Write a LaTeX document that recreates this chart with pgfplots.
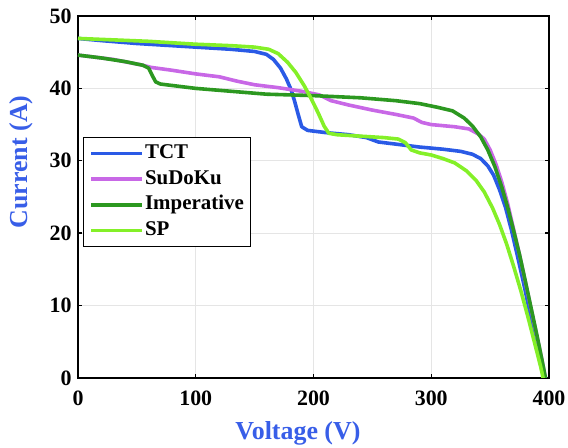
\documentclass[border=0pt]{standalone}
\usepackage{pgfplots}
\pgfplotsset{compat=1.18}
\usepackage{fontspec}
\setmainfont{Liberation Serif}
\definecolor{tct}{RGB}{42,90,230}
\definecolor{sudoku}{RGB}{200,104,230}
\definecolor{imper}{RGB}{44,152,32}
\definecolor{spc}{RGB}{132,240,40}
\definecolor{lab}{RGB}{56,94,232}
\begin{document}
\begin{tikzpicture}[x=1bp,y=1bp]
\path[use as bounding box] (-78,-70) rectangle (490,378);
\begin{axis}[
  at={(0,0)}, anchor=south west,
  scale only axis,
  width=471bp, height=362bp,
  xmin=0, xmax=400, ymin=0, ymax=50,
  xtick={0,100,200,300,400}, ytick={0,10,20,30,40,50},
  grid=major,
  grid style={draw=gray!20, line width=0.8bp},
  axis line style={line width=1.4bp},
  tick style={line width=1.4bp, black},
  major tick length=4bp,
  tick align=inside,
  /pgf/number format/assume math mode=true,
  ticklabel style={font=\fontsize{22}{24}\selectfont\bfseries},
  xticklabel style={yshift=-9bp},
  yticklabel style={xshift=-3bp},
  xlabel={Voltage (V)}, ylabel={Current (A)},
  label style={font=\fontsize{26}{28}\selectfont\bfseries, text=lab},
  xlabel style={at={(axis description cs:0.467,0)}, anchor=center, yshift=-55bp},
  ylabel style={at={(axis description cs:-0.121,0.597)}, anchor=center},
  legend style={at={(axis description cs:0.0106,0.666)}, anchor=north west, draw=black, line width=1.2bp,
    font=\fontsize{21}{23}\selectfont\bfseries, row sep=3.7bp, inner xsep=6bp, inner ysep=5bp,
    nodes={inner sep=1bp, text height=15bp, text depth=5bp}},
  legend cell align=left,
  legend image code/.code={\draw[#1, line width=3.5bp] (0bp,0bp) -- (51bp,0bp);},
  every axis plot/.append style={line width=3.6bp, line join=round},
]
\addplot[tct] coordinates {
(0,46.9)(20,46.6)(50,46.2)(80,45.9)(100,45.7)(130,45.4)(150,45.1)(160,44.7)(166,44.0)(172,42.8)(177,41.3)(181,39.8)(184,38.2)(187,36.4)(190,34.7)(195,34.2)(210,33.9)(230,33.6)(245,33.2)(255,32.6)(270,32.3)(290,31.9)(310,31.6)(325,31.3)(335,30.9)(342,30.3)(348,29.3)(353,28)(358,26)(363,23.6)(368,20.5)(373,17)(378,13.4)(383,9.6)(388,5.8)(393,2.2)(397,0)
};
\addlegendentry{TCT}
\addplot[sudoku] coordinates {
(0,44.6)(30,44)(55,43.2)(62,42.9)(80,42.5)(100,42.0)(120,41.6)(135,41.0)(150,40.5)(170,40.1)(190,39.6)(205,39.1)(215,38.3)(230,37.7)(250,37.0)(270,36.4)(285,35.9)(292,35.3)(300,35.0)(320,34.7)(332,34.4)(340,33.7)(345,33)(350,31.5)(355,29.5)(360,27)(365,24)(370,20.5)(375,17)(380,13.2)(385,9.4)(390,5.6)(394,2.5)(397,0)
};
\addlegendentry{SuDoKu}
\addplot[imper] coordinates {
(0,44.6)(20,44.2)(40,43.7)(55,43.2)(60,42.8)(63,41.8)(66,40.9)(70,40.6)(100,40.0)(130,39.6)(160,39.2)(200,39.0)(240,38.7)(270,38.3)(290,37.9)(305,37.4)(318,36.9)(328,35.9)(335,34.8)(342,33.3)(348,31.5)(354,29.2)(360,26.3)(365,23.5)(370,20.3)(375,17)(380,13.3)(385,9.5)(390,5.7)(394,2.5)(397,0)
};
\addlegendentry{Imperative}
\addplot[spc] coordinates {
(0,46.9)(30,46.7)(60,46.5)(100,46.1)(130,45.9)(150,45.7)(162,45.4)(170,44.8)(178,43.6)(185,42.2)(192,40.4)(198,38.6)(204,36.6)(209,34.8)(213,33.8)(220,33.6)(240,33.4)(260,33.2)(272,33.0)(278,32.5)(283,31.5)(290,31.1)(300,30.8)(310,30.3)(320,29.7)(330,28.6)(338,27.3)(345,25.7)(352,23.5)(358,21.2)(364,18.5)(370,15.4)(376,12.1)(382,8.5)(388,4.7)(393,1.5)(395,0)
};
\addlegendentry{SP}
\end{axis}
\end{tikzpicture}
\end{document}
